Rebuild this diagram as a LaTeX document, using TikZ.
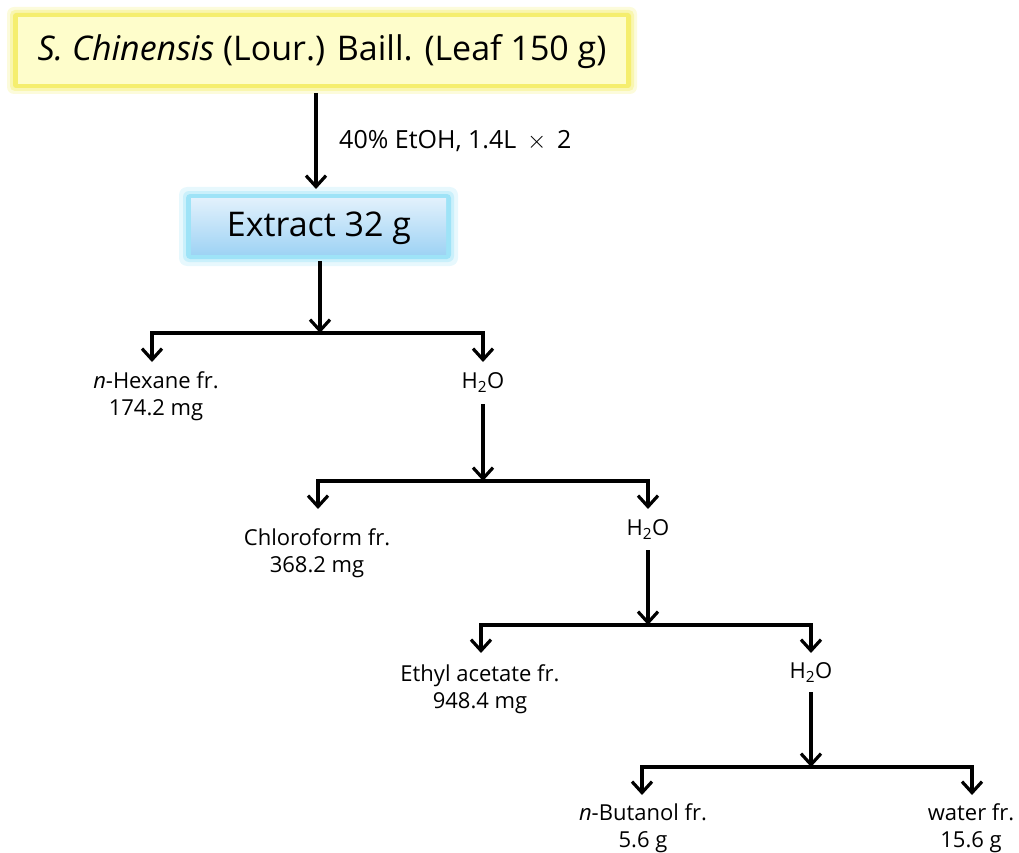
\documentclass[tikz,border=0pt]{standalone}
\usepackage{fontspec}
\setmainfont{Open Sans}
\usetikzlibrary{arrows.meta}
\definecolor{ylfill}{HTML}{FEFDCB}
\definecolor{ylglow}{HTML}{F5EE6E}
\definecolor{bltop}{HTML}{E2F1FC}
\definecolor{blbot}{HTML}{9FD3F4}
\definecolor{blglow}{HTML}{9EE3F7}
\tikzset{
  ln/.style={line width=3.2pt, line join=miter},
  tip/.style={Straight Barb[length=11pt,width=20pt,line width=3.2pt]},
  arr/.style={ln, -{Straight Barb[length=11pt,width=20pt,line width=3.2pt]}},
  arrb/.style={ln, {Straight Barb[length=11pt,width=20pt,line width=3.2pt]}-{Straight Barb[length=11pt,width=20pt,line width=3.2pt]}},
  lbl/.style={font=\fontsize{22}{27}\selectfont, align=center, inner sep=0pt},
  big/.style={font=\fontsize{34}{38}\selectfont, inner sep=0pt},
}
\begin{document}
\begin{tikzpicture}[x=1pt,y=-1pt]
\useasboundingbox (0,0) rectangle (1019,853);
% yellow box
\fill[ylglow!25, rounded corners=7pt] (7,7) rectangle (637,94);
\fill[ylglow!55, rounded corners=5pt] (10,10) rectangle (634,91);
\fill[ylglow, rounded corners=3pt] (13,13) rectangle (631,88);
\fill[ylfill] (18,17) rectangle (626,84);
\node[big] (src) at (322,52) {\textit{S. Chinensis} (Lour.) Baill. (Leaf 150 g)};
% blue box
\fill[blglow!25, rounded corners=8pt] (179,187) rectangle (458,266);
\fill[blglow!55, rounded corners=6pt] (183,191) rectangle (454,262);
\fill[blglow, rounded corners=4pt] (186,194) rectangle (451,259);
\shade[top color=bltop, bottom color=blbot] (191,198) rectangle (446,254);
\node[big] (ext) at (319,228) {Extract 32 g};
% arrow 1
\coordinate (s1) at (316,93);
\coordinate (e1) at (316,189);
\draw[arr] (s1) -- (e1);
\node[lbl, anchor=west, font=\fontsize{25}{30}\selectfont] (cond) at (339,141) {40\% EtOH, 1.4L\, $\times$\, 2};
% level 1
\coordinate (x0) at (320,261);
\coordinate (j1) at (320,333);
\coordinate (l1) at (152,362);
\coordinate (r1) at (483,362);
\draw[arr] (x0) -- (j1);
\draw[arrb] (l1) |- (j1) -| (r1);
\node[lbl] (hex) at (156,396) {\textit{n}-Hexane fr.\\174.2 mg};
\node[lbl] (w1) at (483,383) {H\textsubscript{2}O};
% level 2
\coordinate (x1) at (483,404);
\coordinate (j2) at (483,481);
\coordinate (l2) at (318,509);
\coordinate (r2) at (648,509);
\draw[arr] (x1) -- (j2);
\draw[arrb] (l2) |- (j2) -| (r2);
\node[lbl] (chl) at (317,553) {Chloroform fr.\\368.2 mg};
\node[lbl] (w2) at (648,530) {H\textsubscript{2}O};
% level 3
\coordinate (x2) at (648,550);
\coordinate (j3) at (648,625);
\coordinate (l3) at (481,653);
\coordinate (r3) at (811,653);
\draw[arr] (x2) -- (j3);
\draw[arrb] (l3) |- (j3) -| (r3);
\node[lbl] (eth) at (480,689) {Ethyl acetate fr.\\948.4 mg};
\node[lbl] (w3) at (811,673) {H\textsubscript{2}O};
% level 4
\coordinate (x3) at (811,692);
\coordinate (j4) at (811,767);
\coordinate (l4) at (642,795);
\coordinate (r4) at (972,795);
\draw[arr] (x3) -- (j4);
\draw[arrb] (l4) |- (j4) -| (r4);
\node[lbl] (but) at (643,828) {\textit{n}-Butanol fr.\\5.6 g};
\node[lbl] (wat) at (971,828) {water fr.\\15.6 g};
\end{tikzpicture}
\end{document}
